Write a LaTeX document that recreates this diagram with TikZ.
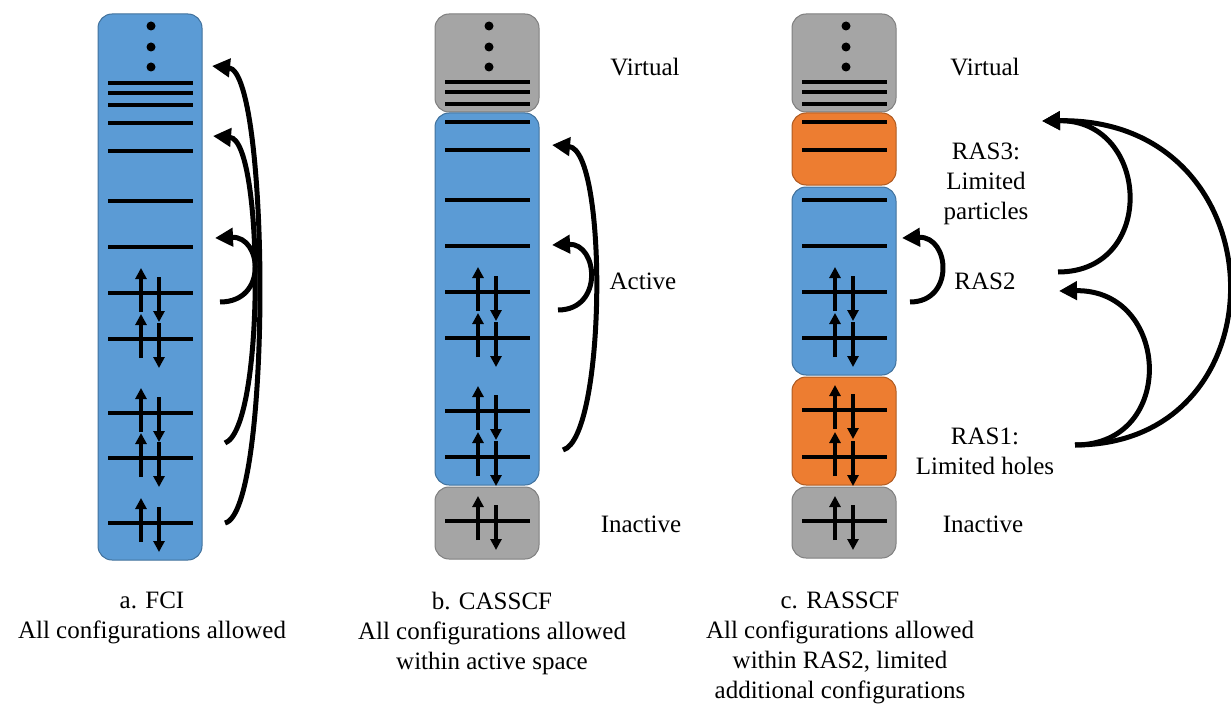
\documentclass[tikz,border=0pt]{standalone}
\usepackage{fontspec}
\setmainfont{Liberation Serif}
\usetikzlibrary{arrows.meta}
\definecolor{boxblue}{HTML}{5B9BD5}
\definecolor{boxblueb}{HTML}{41719C}
\definecolor{boxorange}{HTML}{ED7D31}
\definecolor{boxorangeb}{HTML}{AE5A21}
\definecolor{boxgray}{HTML}{A5A5A5}
\definecolor{boxgrayb}{HTML}{7F7F7F}
\tikzset{
  basebox/.style={rectangle, rounded corners=14pt, inner sep=0pt, line width=1pt},
  bluebox/.style={basebox, fill=boxblue, draw=boxblueb},
  orangebox/.style={basebox, fill=boxorange, draw=boxorangeb},
  graybox/.style={basebox, fill=boxgray, draw=boxgrayb},
  lvl/.style={line width=3.5pt},
  spin/.style={line width=3.5pt, -{Triangle[length=11pt,width=11pt]}},
  excite/.style={line width=5pt, -{Triangle[length=18pt,width=18pt]}},
  lbl/.style={font=\fontsize{25}{30}\selectfont, align=center, inner sep=0pt},
}
\newcommand{\mylevel}[2]{\draw[lvl] (#1,#2) -- ++(85,0);}
\newcommand{\mypair}[2]{\mylevel{#1}{#2}%
  \draw[spin] ({#1+33},{#2+19}) -- ({#1+33},{#2-25});%
  \draw[spin] ({#1+51},{#2-16}) -- ({#1+51},{#2+29});}
\newcommand{\mydots}[1]{\fill (#1,26) circle (4.5pt); \fill (#1,47) circle (4.5pt); \fill (#1,67) circle (4.5pt);}
\begin{document}
\begin{tikzpicture}[x=1pt,y=-1pt]
\useasboundingbox (0,0) rectangle (1231,706);
% ---------- column a ----------
\node[bluebox, minimum width=104pt, minimum height=546pt] (boxa) at (150,287) {};
\mydots{151}
\mylevel{108}{83}\mylevel{108}{93}\mylevel{108}{105}\mylevel{108}{123}
\mylevel{108}{151}\mylevel{108}{201}\mylevel{108}{247}
\mypair{108}{293}\mypair{108}{339}\mypair{108}{413}\mypair{108}{458}\mypair{108}{523}
\coordinate (a1s) at (220,302); \coordinate (a1e) at (215,238);
\coordinate (a2s) at (225,443); \coordinate (a2e) at (213,136);
\coordinate (a3s) at (225,523); \coordinate (a3e) at (212,66);
\draw[excite] (a1s) .. controls (268,302) and (262,236) .. (a1e);
\draw[excite] (a2s) .. controls (265,428) and (264,140) .. (a2e);
\draw[excite] (a3s) .. controls (272,512) and (270,72) .. (a3e);
% ---------- column b ----------
\node[graybox, minimum width=104pt, minimum height=98pt] (bvir) at (487,63) {};
\node[bluebox, minimum width=104pt, minimum height=372pt] (bact) at (487,299) {};
\node[graybox, minimum width=104pt, minimum height=72pt] (bina) at (487,523) {};
\mydots{489}
\mylevel{445}{82}\mylevel{445}{92}\mylevel{445}{104}
\mylevel{445}{122}\mylevel{445}{150}\mylevel{445}{200}\mylevel{445}{246}
\mypair{445}{292}\mypair{445}{338}\mypair{445}{411}\mypair{445}{457}\mypair{445}{521}
\coordinate (b1s) at (558,310); \coordinate (b1e) at (552,245);
\coordinate (b2s) at (563,450); \coordinate (b2e) at (552,145);
\draw[excite] (b1s) .. controls (604,310) and (598,243) .. (b1e);
\draw[excite] (b2s) .. controls (606,438) and (608,150) .. (b2e);
\node[lbl] (bvirl) at (645,67) {Virtual};
\node[lbl] (bactl) at (643,281) {Active};
\node[lbl] (binal) at (641,524) {Inactive};
% ---------- column c ----------
\node[graybox, minimum width=104pt, minimum height=98pt] (cvir) at (844,63) {};
\node[orangebox, minimum width=104pt, minimum height=72pt] (cras3) at (844,149) {};
\node[bluebox, minimum width=104pt, minimum height=188pt] (cras2) at (844,281) {};
\node[orangebox, minimum width=104pt, minimum height=108pt] (cras1) at (844,431) {};
\node[graybox, minimum width=104pt, minimum height=71pt] (cina) at (844,522.5) {};
\mydots{846}
\mylevel{802}{82}\mylevel{802}{92}\mylevel{802}{104}
\mylevel{802}{122}\mylevel{802}{150}\mylevel{802}{200}\mylevel{802}{246}
\mypair{802}{292}\mypair{802}{338}\mypair{802}{410}\mypair{802}{457}\mypair{802}{521}
\coordinate (c1s) at (910,302); \coordinate (c1e) at (902,238);
\draw[excite] (c1s) .. controls (955,302) and (950,236) .. (c1e);
\coordinate (r2s) at (1058,272); \coordinate (r3e) at (1042,121);
\coordinate (r1s) at (1075,445); \coordinate (r2e) at (1059,291);
\draw[excite] (r2s) .. controls (1158,272) and (1150,119) .. (r3e);
\draw[excite] (r1s) .. controls (1178,445) and (1170,289) .. (r2e);
\draw[excite] (r1s) .. controls (1288,445) and (1282,117) .. (r3e);
\node[lbl] (cvirl) at (985,67) {Virtual};
\node[lbl] (cras3l) at (986,184) {RAS3:\\Limited\\particles};
\node[lbl] (cras2l) at (985,281) {RAS2};
\node[lbl] (cras1l) at (985,451) {RAS1:\\Limited holes};
\node[lbl] (cinal) at (983,524) {Inactive};
% ---------- captions ----------
\node[lbl] (capa) at (152,618) {a. FCI\\All configurations allowed};
\node[lbl] (capb) at (492,633) {b. CASSCF\\All configurations allowed\\within active space};
\node[lbl] (capc) at (840,648) {c. RASSCF\\All configurations allowed\\within RAS2, limited\\additional configurations};
\end{tikzpicture}
\end{document}
